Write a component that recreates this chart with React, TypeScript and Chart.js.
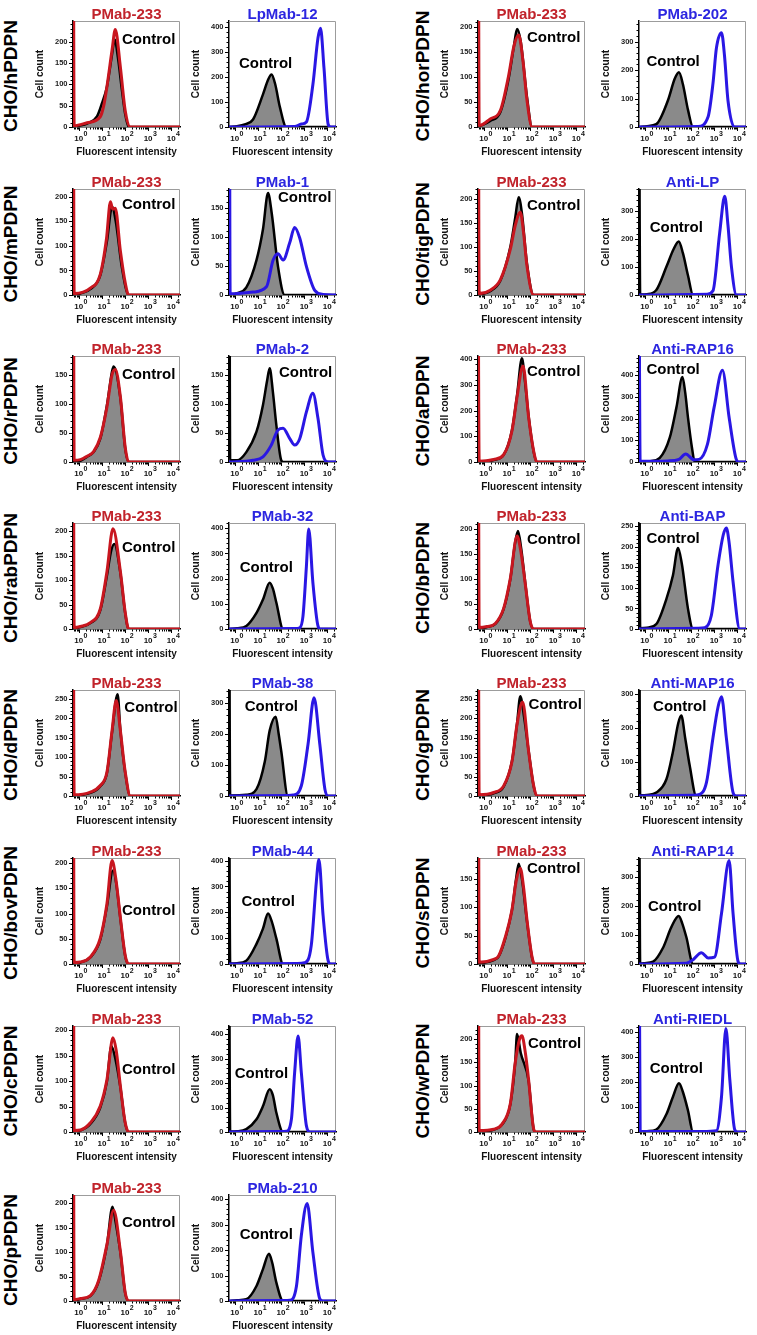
import React, { useEffect, useRef } from "react";
import { Chart, registerables } from "chart.js";
Chart.register(...registerables);

type Pt = [number, number];

// ---------------- categories / labels ----------------
const LEFT_ROWS = ["CHO/hPDPN", "CHO/mPDPN", "CHO/rPDPN", "CHO/rabPDPN", "CHO/dPDPN", "CHO/bovPDPN", "CHO/cPDPN", "CHO/pPDPN"];
const RIGHT_ROWS = ["CHO/horPDPN", "CHO/tigPDPN", "CHO/aPDPN", "CHO/bPDPN", "CHO/gPDPN", "CHO/sPDPN", "CHO/wPDPN"];
const REF_ANTIBODY = "PMab-233";
const LEFT_ANTIBODIES = ["LpMab-12", "PMab-1", "PMab-2", "PMab-32", "PMab-38", "PMab-44", "PMab-52", "PMab-210"];
const RIGHT_ANTIBODIES = ["PMab-202", "Anti-LP", "Anti-RAP16", "Anti-BAP", "Anti-MAP16", "Anti-RAP14", "Anti-RIEDL"];
const CONTROL_TEXT = "Control";
const X_TITLE = "Fluorescent intensity";
const Y_TITLE = "Cell count";

// x axis: log10 of intensity
const X_MIN = -0.25;
const X_MAX = 4.38;
const X_TICK_EXPONENTS = [0, 1, 2, 3, 4];

// y axis maxima (cell count) and major tick steps
const LEFT_REF_YMAX = [248, 216, 182, 217, 273, 210, 208, 217];
const LEFT_TEST_YMAX = [422, 182, 182, 421, 342, 410, 434, 416];
const RIGHT_REF_YMAX = [211, 220, 413, 211, 272, 186, 228];
const RIGHT_TEST_YMAX = [372, 380, 489, 258, 312, 365, 424];
const LEFT_REF_STEP = [50, 50, 50, 50, 50, 50, 50, 50];
const LEFT_TEST_STEP = [100, 50, 50, 100, 100, 100, 100, 100];
const RIGHT_REF_STEP = [50, 50, 100, 50, 50, 50, 50];
const RIGHT_TEST_STEP = [100, 100, 100, 50, 100, 100, 100];

// "Control" label anchor in data units [log10 x, count]
const LEFT_REF_CTRL_AT: Pt[] = [[1.87, 203], [1.87, 183], [1.87, 150], [1.87, 167], [1.97, 226], [1.87, 106], [1.87, 122], [1.87, 159]];
const LEFT_TEST_CTRL_AT: Pt[] = [[0.18, 251], [1.87, 166], [1.91, 153], [0.21, 244], [0.43, 287], [0.29, 241], [0.0, 240], [0.21, 260]];
const RIGHT_REF_CTRL_AT: Pt[] = [[1.87, 178], [1.87, 186], [1.87, 351], [1.87, 178], [1.94, 233], [1.87, 167], [1.91, 190]];
const RIGHT_TEST_CTRL_AT: Pt[] = [[0.07, 229], [0.21, 240], [0.07, 424], [0.07, 219], [0.36, 262], [0.14, 196], [0.21, 252]];

// ---------------- histogram series [log10 intensity, count] ----------------
// hPDPN
const hCtrlA: Pt[] = [[-0.25, 0], [0, 3], [0.36, 8], [0.79, 25], [1.0, 55], [1.22, 95], [1.44, 170], [1.55, 205], [1.7, 160], [1.87, 85], [2.01, 30], [2.16, 0], [4.38, 0]];
const hRef: Pt[] = [[-0.25, 999], [-0.2, 3], [0.36, 10], [0.93, 24], [1.08, 50], [1.22, 95], [1.44, 180], [1.58, 228], [1.8, 140], [2.01, 38], [2.23, 0], [4.38, 0]];
const hCtrlB: Pt[] = [[-0.25, 0], [0.1, 3], [0.43, 10], [0.79, 30], [1.22, 130], [1.45, 190], [1.59, 209], [1.75, 170], [1.95, 80], [2.23, 0], [4.38, 0]];
const hTest: Pt[] = [[-0.25, 0], [2.6, 2], [2.88, 12], [3.1, 20], [3.38, 169], [3.6, 354], [3.71, 393], [3.86, 235], [4.04, 11], [4.15, 0], [4.38, 0]];
// mPDPN
const mCtrlA: Pt[] = [[-0.25, 0], [0.07, 3], [0.5, 12], [0.93, 40], [1.22, 110], [1.44, 180], [1.6, 150], [1.87, 55], [2.16, 0], [4.38, 0]];
const mRef: Pt[] = [[-0.25, 999], [-0.2, 3], [0.5, 14], [0.93, 42], [1.2, 115], [1.37, 190], [1.47, 175], [1.58, 177], [1.8, 90], [2.01, 25], [2.16, 0], [4.38, 0]];
const mCtrlB: Pt[] = [[-0.25, 0], [0.1, 3], [0.5, 13], [0.94, 60], [1.22, 113], [1.44, 175], [1.6, 140], [1.87, 49], [2.16, 0], [4.38, 0]];
const mTest: Pt[] = [[-0.25, 999], [-0.2, 2], [0.79, 5], [1.37, 14], [1.66, 60], [1.87, 71], [2.09, 60], [2.38, 90], [2.59, 116], [2.81, 98], [3.1, 49], [3.46, 8], [3.82, 1], [4.38, 0]];
// rPDPN
const rCtrlA: Pt[] = [[-0.25, 0], [0.07, 2], [0.36, 9], [0.64, 17], [0.93, 40], [1.22, 98], [1.44, 156], [1.51, 164], [1.8, 110], [2.01, 23], [2.16, 0], [4.38, 0]];
const rRef: Pt[] = [[-0.25, 999], [-0.2, 3], [0.07, 4], [0.36, 10], [0.64, 18], [0.93, 42], [1.22, 95], [1.44, 150], [1.58, 159], [1.8, 112], [2.01, 25], [2.16, 0], [4.38, 0]];
const rCtrlB: Pt[] = [[-0.25, 999], [-0.2, 3], [0.1, 3], [0.5, 17], [0.94, 52], [1.22, 98], [1.4, 140], [1.51, 161], [1.65, 120], [1.8, 63], [2.01, 3], [2.1, 0], [4.38, 0]];
const rTest: Pt[] = [[-0.25, 0], [0.79, 3], [1.22, 9], [1.58, 29], [1.87, 55], [2.09, 58], [2.38, 40], [2.59, 29], [2.81, 40], [3.1, 86], [3.38, 118], [3.6, 75], [3.82, 12], [4.04, 0], [4.38, 0]];
// rabPDPN
const rabCtrlA: Pt[] = [[-0.25, 0], [0.07, 4], [0.5, 12], [0.93, 38], [1.22, 110], [1.4, 160], [1.54, 174], [1.8, 115], [2.01, 32], [2.16, 0], [4.38, 0]];
const rabRef: Pt[] = [[-0.25, 999], [-0.2, 3], [0.07, 5], [0.5, 13], [0.93, 41], [1.22, 118], [1.48, 205], [1.8, 118], [2.01, 34], [2.16, 0], [4.38, 0]];
const rabCtrlB: Pt[] = [[-0.25, 0], [0.1, 3], [0.5, 12], [0.94, 64], [1.22, 117], [1.51, 184], [1.65, 160], [1.8, 104], [2.09, 0], [4.38, 0]];
const rabTest: Pt[] = [[-0.25, 0], [2.6, 2], [2.81, 5], [2.95, 50], [3.1, 250], [3.2, 397], [3.38, 184], [3.6, 12], [3.7, 0], [4.38, 0]];
// dPDPN
const dCtrlA: Pt[] = [[-0.25, 0], [0.5, 8], [0.93, 25], [1.22, 60], [1.44, 165], [1.68, 262], [1.8, 170], [2.01, 60], [2.23, 0], [4.38, 0]];
const dRef: Pt[] = [[-0.25, 999], [-0.2, 3], [0.5, 10], [0.93, 27], [1.22, 62], [1.44, 168], [1.62, 246], [1.8, 168], [2.01, 62], [2.23, 0], [4.38, 0]];
const dCtrlB: Pt[] = [[-0.25, 999], [-0.2, 2], [0.5, 4], [0.94, 22], [1.3, 111], [1.51, 211], [1.77, 256], [1.9, 200], [2.01, 145], [2.3, 0], [4.38, 0]];
const dTest: Pt[] = [[-0.25, 0], [2.3, 2], [2.52, 3], [2.88, 33], [3.17, 167], [3.43, 317], [3.68, 167], [3.9, 22], [4.04, 0], [4.38, 0]];
// bovPDPN
const bovCtrlA: Pt[] = [[-0.25, 0], [0.07, 3], [0.5, 13], [0.93, 48], [1.22, 115], [1.48, 185], [1.62, 160], [1.8, 90], [2.01, 16], [2.16, 0], [4.38, 0]];
const bovRef: Pt[] = [[-0.25, 999], [-0.2, 3], [0.07, 4], [0.5, 14], [0.93, 51], [1.22, 120], [1.44, 205], [1.6, 170], [1.8, 92], [2.01, 17], [2.16, 0], [4.38, 0]];
const bovCtrlB: Pt[] = [[-0.25, 999], [-0.2, 2], [0.1, 3], [0.5, 13], [0.94, 78], [1.22, 137], [1.44, 195], [1.6, 165], [1.8, 98], [2.09, 0], [4.38, 0]];
const bovTest: Pt[] = [[-0.25, 0], [2.7, 2], [3.02, 5], [3.31, 72], [3.53, 319], [3.64, 404], [3.82, 189], [4.04, 13], [4.15, 0], [4.38, 0]];
// cPDPN
const cCtrlA: Pt[] = [[-0.25, 0], [0.07, 3], [0.5, 16], [0.93, 48], [1.22, 100], [1.41, 169], [1.6, 140], [1.8, 88], [2.01, 17], [2.16, 0], [4.38, 0]];
const cRef: Pt[] = [[-0.25, 999], [-0.2, 3], [0.07, 4], [0.5, 18], [0.93, 51], [1.22, 103], [1.48, 185], [1.62, 160], [1.8, 90], [2.01, 18], [2.16, 0], [4.38, 0]];
const cCtrlB: Pt[] = [[-0.25, 999], [-0.2, 2], [0.1, 3], [0.5, 12], [0.94, 52], [1.22, 106], [1.51, 175], [1.65, 150], [1.8, 79], [2.09, 0], [4.38, 0]];
const cTest: Pt[] = [[-0.25, 0], [2.0, 2], [2.23, 3], [2.45, 52], [2.59, 243], [2.74, 393], [2.88, 243], [3.1, 25], [3.25, 0], [4.38, 0]];
// pPDPN
const pCtrlA: Pt[] = [[-0.25, 0], [0.07, 4], [0.5, 10], [0.86, 40], [1.22, 115], [1.46, 193], [1.6, 160], [1.8, 100], [2.01, 16], [2.16, 0], [4.38, 0]];
const pRef: Pt[] = [[-0.25, 999], [-0.2, 3], [0.07, 5], [0.5, 11], [0.86, 42], [1.22, 116], [1.51, 186], [1.8, 102], [2.01, 17], [2.16, 0], [4.38, 0]];
const pCtrlB: Pt[] = [[-0.25, 0], [0.1, 3], [0.5, 7], [0.94, 59], [1.22, 125], [1.48, 185], [1.62, 150], [1.8, 72], [2.09, 0], [4.38, 0]];
const pTest: Pt[] = [[-0.25, 0], [2.1, 2], [2.38, 3], [2.67, 59], [2.88, 257], [3.13, 383], [3.38, 191], [3.68, 8], [3.8, 0], [4.38, 0]];
// horPDPN
const horCtrlA: Pt[] = [[-0.25, 0], [0.28, 12], [0.72, 30], [1.07, 95], [1.3, 160], [1.44, 195], [1.6, 170], [1.87, 60], [2.09, 0], [4.38, 0]];
const horRef: Pt[] = [[-0.25, 999], [-0.2, 3], [0.28, 16], [0.72, 33], [1.07, 101], [1.3, 160], [1.51, 183], [1.7, 130], [1.87, 53], [2.09, 0], [4.38, 0]];
const horCtrlB: Pt[] = [[-0.25, 0], [0.1, 3], [0.5, 10], [1.0, 93], [1.3, 170], [1.48, 192], [1.65, 150], [1.87, 60], [2.09, 0], [4.38, 0]];
const horTest: Pt[] = [[-0.25, 0], [2.3, 2], [2.74, 36], [2.95, 152], [3.1, 277], [3.32, 331], [3.45, 250], [3.6, 93], [3.89, 0], [4.38, 0]];
// tigPDPN
const tigCtrlA: Pt[] = [[-0.25, 0], [0.28, 8], [0.72, 30], [1.15, 100], [1.36, 160], [1.51, 203], [1.65, 170], [1.87, 65], [2.16, 0], [4.38, 0]];
const tigRef: Pt[] = [[-0.25, 999], [-0.2, 3], [0.28, 10], [0.72, 32], [1.15, 95], [1.36, 144], [1.58, 172], [1.72, 130], [1.87, 60], [2.16, 0], [4.38, 0]];
const tigCtrlB: Pt[] = [[-0.25, 999], [-0.2, 2], [0.1, 3], [0.5, 18], [0.94, 102], [1.25, 165], [1.47, 192], [1.65, 150], [1.87, 70], [2.09, 0], [4.38, 0]];
const tigTest: Pt[] = [[-0.25, 0], [2.7, 3], [2.95, 15], [3.24, 222], [3.46, 354], [3.6, 250], [3.75, 102], [3.97, 0], [4.38, 0]];
// aPDPN
const aCtrlA: Pt[] = [[-0.25, 0], [0.43, 8], [0.86, 28], [1.22, 125], [1.44, 260], [1.65, 404], [1.8, 300], [1.94, 180], [2.16, 40], [2.3, 0], [4.38, 0]];
const aRef: Pt[] = [[-0.25, 999], [-0.2, 3], [0.43, 10], [0.86, 29], [1.22, 121], [1.44, 253], [1.7, 374], [1.94, 174], [2.16, 42], [2.3, 0], [4.38, 0]];
const aCtrlB: Pt[] = [[-0.25, 0], [0.2, 3], [0.65, 19], [1.08, 112], [1.37, 252], [1.63, 392], [1.75, 320], [1.87, 205], [2.05, 60], [2.16, 0], [4.38, 0]];
const aTest: Pt[] = [[-0.25, 999], [-0.2, 3], [1.0, 5], [1.48, 12], [1.77, 37], [2.13, 10], [2.35, 12], [2.71, 81], [3.0, 252], [3.36, 423], [3.65, 205], [3.94, 19], [4.05, 0], [4.38, 0]];
// bPDPN
const bCtrlA: Pt[] = [[-0.25, 0], [0.14, 4], [0.5, 10], [0.86, 40], [1.15, 100], [1.35, 170], [1.48, 195], [1.62, 160], [1.8, 90], [2.01, 15], [2.16, 0], [4.38, 0]];
const bRef: Pt[] = [[-0.25, 999], [-0.2, 3], [0.14, 5], [0.5, 11], [0.86, 41], [1.15, 101], [1.44, 185], [1.62, 150], [1.8, 88], [2.01, 15], [2.16, 0], [4.38, 0]];
const bCtrlB: Pt[] = [[-0.25, 999], [-0.2, 2], [0.1, 3], [0.5, 12], [0.94, 74], [1.22, 131], [1.44, 197], [1.6, 160], [1.87, 49], [2.09, 0], [4.38, 0]];
const bTest: Pt[] = [[-0.25, 0], [2.3, 2], [2.59, 3], [2.88, 33], [3.17, 156], [3.4, 230], [3.53, 246], [3.65, 210], [3.82, 115], [4.11, 0], [4.38, 0]];
// gPDPN
const gCtrlA: Pt[] = [[-0.25, 0], [0.43, 7], [0.86, 24], [1.22, 90], [1.44, 186], [1.58, 256], [1.75, 200], [1.94, 116], [2.16, 25], [2.3, 0], [4.38, 0]];
const gRef: Pt[] = [[-0.25, 999], [-0.2, 3], [0.43, 9], [0.86, 26], [1.22, 88], [1.44, 184], [1.68, 241], [1.94, 114], [2.16, 26], [2.3, 0], [4.38, 0]];
const gCtrlB: Pt[] = [[-0.25, 999], [-0.2, 2], [0.1, 3], [0.5, 10], [0.94, 50], [1.22, 131], [1.45, 215], [1.58, 237], [1.75, 170], [1.94, 91], [2.23, 0], [4.38, 0]];
const gTest: Pt[] = [[-0.25, 0], [2.1, 2], [2.38, 5], [2.67, 40], [2.95, 171], [3.17, 262], [3.32, 292], [3.53, 171], [3.82, 10], [3.95, 0], [4.38, 0]];
// sPDPN
const sCtrlA: Pt[] = [[-0.25, 0], [0.43, 7], [0.64, 13], [0.93, 45], [1.22, 95], [1.4, 150], [1.51, 176], [1.65, 150], [1.87, 75], [2.09, 11], [2.2, 0], [4.38, 0]];
const sRef: Pt[] = [[-0.25, 999], [-0.2, 3], [0.43, 8], [0.64, 14], [0.93, 47], [1.22, 95], [1.4, 145], [1.58, 168], [1.72, 135], [1.87, 77], [2.09, 12], [2.2, 0], [4.38, 0]];
const sCtrlB: Pt[] = [[-0.25, 999], [-0.2, 2], [0.0, 3], [0.36, 8], [0.79, 56], [1.15, 127], [1.47, 165], [1.62, 140], [1.8, 92], [2.09, 0], [4.38, 0]];
const sTest: Pt[] = [[-0.25, 0], [1.8, 3], [2.09, 15], [2.45, 39], [2.74, 21], [3.02, 24], [3.32, 174], [3.65, 356], [3.82, 174], [4.04, 8], [4.15, 0], [4.38, 0]];
// wPDPN
const wCtrlA: Pt[] = [[-0.25, 0], [0.43, 5], [0.79, 16], [1.15, 60], [1.36, 150], [1.44, 211], [1.6, 170], [1.94, 110], [2.16, 6], [2.25, 0], [4.38, 0]];
const wRef: Pt[] = [[-0.25, 999], [-0.2, 3], [0.43, 6], [0.79, 17], [1.15, 61], [1.36, 149], [1.55, 200], [1.65, 207], [1.8, 170], [1.94, 112], [2.16, 6], [2.25, 0], [4.38, 0]];
const wCtrlB: Pt[] = [[-0.25, 0], [0.1, 3], [0.5, 10], [0.94, 72], [1.22, 141], [1.48, 195], [1.65, 160], [1.87, 86], [2.09, 0], [4.38, 0]];
const wTest: Pt[] = [[-0.25, 999], [-0.2, 3], [2.5, 2], [3.1, 5], [3.32, 141], [3.51, 414], [3.68, 209], [3.89, 10], [4.0, 0], [4.38, 0]];

const LEFT_SERIES: Pt[][][] = [
  [hCtrlA, hRef, hCtrlB, hTest],
  [mCtrlA, mRef, mCtrlB, mTest],
  [rCtrlA, rRef, rCtrlB, rTest],
  [rabCtrlA, rabRef, rabCtrlB, rabTest],
  [dCtrlA, dRef, dCtrlB, dTest],
  [bovCtrlA, bovRef, bovCtrlB, bovTest],
  [cCtrlA, cRef, cCtrlB, cTest],
  [pCtrlA, pRef, pCtrlB, pTest],
];
const RIGHT_SERIES: Pt[][][] = [
  [horCtrlA, horRef, horCtrlB, horTest],
  [tigCtrlA, tigRef, tigCtrlB, tigTest],
  [aCtrlA, aRef, aCtrlB, aTest],
  [bCtrlA, bRef, bCtrlB, bTest],
  [gCtrlA, gRef, gCtrlB, gTest],
  [sCtrlA, sRef, sCtrlB, sTest],
  [wCtrlA, wRef, wCtrlB, wTest],
];

// ---------------- layout & style ----------------
const ROW_AXIS_Y = [127, 295, 462, 629, 796, 964, 1132, 1301];
const FRAME_W = 107;
const FRAME_H = 106;
const PAD_L = 45;
const PAD_T = 20;
const PAD_R = 6;
const PAD_B = 34;
const LEFT_FRAMES = [73, 229];
const RIGHT_FRAMES = [478, 639];
const ROW_LABEL_X = [11, 422.5];
const FONT = '"Liberation Sans", Arial, Helvetica, sans-serif';
const RED = "#c8161f";
const BLUE = "#2a17e4";
const RED_TITLE = "#c1232b";
const BLUE_TITLE = "#2c26e0";
const GRAY_FILL = "#8a8a8a";

Chart.defaults.font.family = FONT;

const decorPlugin = {
  id: "decor",
  beforeDatasetsDraw(chart: any, _a: any, opts: any) {
    const { ctx, chartArea: a, scales } = chart;
    const xs = scales.x, ys = scales.y;
    ctx.save();
    // frame top/right
    ctx.strokeStyle = "#9c9c9c";
    ctx.lineWidth = 1;
    ctx.beginPath();
    ctx.moveTo(a.left, a.top + 0.5);
    ctx.lineTo(a.right - 0.5, a.top + 0.5);
    ctx.lineTo(a.right - 0.5, a.bottom);
    ctx.stroke();
    // y ticks (major + minor)
    ctx.strokeStyle = "#000";
    ctx.lineWidth = 1;
    const minor = opts.step / 5;
    for (let i = 0; i * minor <= ys.max; i++) {
      const y = Math.round(ys.getPixelForValue(i * minor)) + 0.5;
      const len = i % 5 === 0 ? 3.5 : 2;
      ctx.beginPath();
      ctx.moveTo(a.left - 0.5, y);
      ctx.lineTo(a.left - 0.5 - len, y);
      ctx.stroke();
    }
    // x ticks (log decades with minor)
    for (let d = -1; d <= 4; d++) {
      for (let k = 1; k <= 9; k++) {
        const v = d + Math.log10(k);
        if (v < xs.min || v > xs.max) continue;
        const x = Math.round(xs.getPixelForValue(v)) + 0.5;
        const len = k === 1 ? 3.5 : 2;
        ctx.beginPath();
        ctx.moveTo(x, a.bottom + 0.5);
        ctx.lineTo(x, a.bottom + 0.5 + len);
        ctx.stroke();
      }
    }
    ctx.restore();
  },
  afterDatasetsDraw(chart: any, _a: any, opts: any) {
    const { ctx, chartArea: a, scales } = chart;
    const xs = scales.x, ys = scales.y;
    ctx.save();
    // panel title
    ctx.fillStyle = opts.titleColor;
    ctx.font = `bold 15px ${FONT}`;
    ctx.textAlign = "center";
    ctx.textBaseline = "alphabetic";
    ctx.fillText(opts.title, (a.left + a.right) / 2, a.top - 2.5);
    // control label
    ctx.fillStyle = "#000";
    ctx.font = `bold 15px ${FONT}`;
    ctx.textAlign = "left";
    ctx.textBaseline = "middle";
    ctx.fillText(CONTROL_TEXT, xs.getPixelForValue(opts.ctrlAt[0]), ys.getPixelForValue(opts.ctrlAt[1]));
    // x tick labels 10^n
    ctx.fillStyle = "#111";
    for (const e of X_TICK_EXPONENTS) {
      const x = xs.getPixelForValue(e);
      ctx.font = `bold 8px ${FONT}`;
      ctx.textAlign = "center";
      ctx.textBaseline = "alphabetic";
      ctx.fillText("10", x, a.bottom + 13.5);
      ctx.font = `bold 7px ${FONT}`;
      ctx.textAlign = "left";
      ctx.fillText(String(e), x + 4.8, a.bottom + 8.5);
    }
    ctx.restore();
  },
};

type PanelProps = {
  left: number;
  axisY: number;
  title: string;
  color: string;
  titleColor: string;
  ymax: number;
  step: number;
  ctrl: Pt[];
  sample: Pt[];
  ctrlAt: Pt;
};

function Panel(p: PanelProps) {
  const ref = useRef<HTMLCanvasElement>(null);
  const W = PAD_L + FRAME_W + PAD_R;
  const H = PAD_T + FRAME_H + PAD_B;
  useEffect(() => {
    const step = p.step;
    const chart = new Chart(ref.current as HTMLCanvasElement, {
      type: "line",
      data: {
        datasets: [
          {
            data: p.sample.map(([x, y]) => ({ x, y })),
            borderColor: p.color,
            borderWidth: 3,
            fill: false,
            pointRadius: 0,
            cubicInterpolationMode: "monotone",
          },
          {
            data: p.ctrl.map(([x, y]) => ({ x, y })),
            borderColor: "#000",
            borderWidth: 2.5,
            backgroundColor: GRAY_FILL,
            fill: "origin",
            pointRadius: 0,
            cubicInterpolationMode: "monotone",
          },
        ],
      },
      options: {
        responsive: false,
        animation: false,
        devicePixelRatio: 1,
        events: [],
        layout: { padding: { left: 0, top: PAD_T, right: PAD_R, bottom: 0 } },
        plugins: {
          legend: { display: false },
          tooltip: { enabled: false },
          title: { display: false },
          decor: { title: p.title, titleColor: p.titleColor, ctrlAt: p.ctrlAt, step },
        } as any,
        scales: {
          x: {
            type: "linear",
            min: X_MIN,
            max: X_MAX,
            grid: { display: false, drawTicks: false },
            border: { display: true, color: "#000", width: 1.5 },
            ticks: { display: false },
            title: {
              display: true,
              text: X_TITLE,
              color: "#111",
              font: { size: 10, weight: "bold" },
              padding: { top: 0, bottom: 3 },
            },
            afterFit: (s: any) => {
              s.height = PAD_B;
            },
          },
          y: {
            type: "linear",
            min: 0,
            max: p.ymax,
            grid: { display: false, drawTicks: false },
            border: { display: true, color: "#000", width: 1.5 },
            ticks: {
              color: "#222",
              font: { size: 7.5, weight: "bold" },
              padding: 5.5,
            },
            afterBuildTicks: (s: any) => {
              const t: any[] = [];
              for (let v = 0; v <= p.ymax; v += step) t.push({ value: v });
              s.ticks = t;
            },
            title: {
              display: true,
              text: Y_TITLE,
              color: "#111",
              font: { size: 10, weight: "bold" },
              padding: { top: 6.3, bottom: 0 },
            },
            afterFit: (s: any) => {
              s.width = PAD_L;
            },
          },
        } as any,
      },
      plugins: [decorPlugin as any],
    } as any);
    return () => chart.destroy();
  }, []);
  return (
    <canvas
      ref={ref}
      width={W}
      height={H}
      style={{
        position: "absolute",
        left: p.left - PAD_L,
        top: p.axisY - FRAME_H - PAD_T,
        width: W,
        height: H,
      }}
    />
  );
}

function RowLabel({ x, y, text }: { x: number; y: number; text: string }) {
  return (
    <div
      style={{
        position: "absolute",
        left: x,
        top: y,
        transform: "translate(-50%, -50%) rotate(-90deg)",
        font: `bold 19px ${FONT}`,
        color: "#000",
        whiteSpace: "nowrap",
        lineHeight: "20px",
      }}
    >
      {text}
    </div>
  );
}

export default function App() {
  const items: React.ReactNode[] = [];
  const columns = [
    { rows: LEFT_ROWS, abs: LEFT_ANTIBODIES, series: LEFT_SERIES, refMax: LEFT_REF_YMAX, testMax: LEFT_TEST_YMAX, refStep: LEFT_REF_STEP, testStep: LEFT_TEST_STEP, refAt: LEFT_REF_CTRL_AT, testAt: LEFT_TEST_CTRL_AT, frames: LEFT_FRAMES, labelX: ROW_LABEL_X[0] },
    { rows: RIGHT_ROWS, abs: RIGHT_ANTIBODIES, series: RIGHT_SERIES, refMax: RIGHT_REF_YMAX, testMax: RIGHT_TEST_YMAX, refStep: RIGHT_REF_STEP, testStep: RIGHT_TEST_STEP, refAt: RIGHT_REF_CTRL_AT, testAt: RIGHT_TEST_CTRL_AT, frames: RIGHT_FRAMES, labelX: ROW_LABEL_X[1] },
  ];
  columns.forEach((col, ci) => {
    col.rows.forEach((rowName, ri) => {
      const axisY = ROW_AXIS_Y[ri];
      const [ctrlA, ref, ctrlB, test] = col.series[ri];
      items.push(<RowLabel key={`l${ci}-${ri}`} x={col.labelX} y={axisY - FRAME_H / 2 + 2} text={rowName} />);
      items.push(
        <Panel key={`a${ci}-${ri}`} left={col.frames[0]} axisY={axisY} title={REF_ANTIBODY} color={RED} titleColor={RED_TITLE} ymax={col.refMax[ri]} step={col.refStep[ri]} ctrl={ctrlA} sample={ref} ctrlAt={col.refAt[ri]} />
      );
      items.push(
        <Panel key={`b${ci}-${ri}`} left={col.frames[1]} axisY={axisY} title={col.abs[ri]} color={BLUE} titleColor={BLUE_TITLE} ymax={col.testMax[ri]} step={col.testStep[ri]} ctrl={ctrlB} sample={test} ctrlAt={col.testAt[ri]} />
      );
    });
  });
  return (
    <div style={{ position: "absolute", left: 0, top: 0, width: 757, height: 1335, background: "#fff", overflow: "hidden" }}>
      {items}
    </div>
  );
}
